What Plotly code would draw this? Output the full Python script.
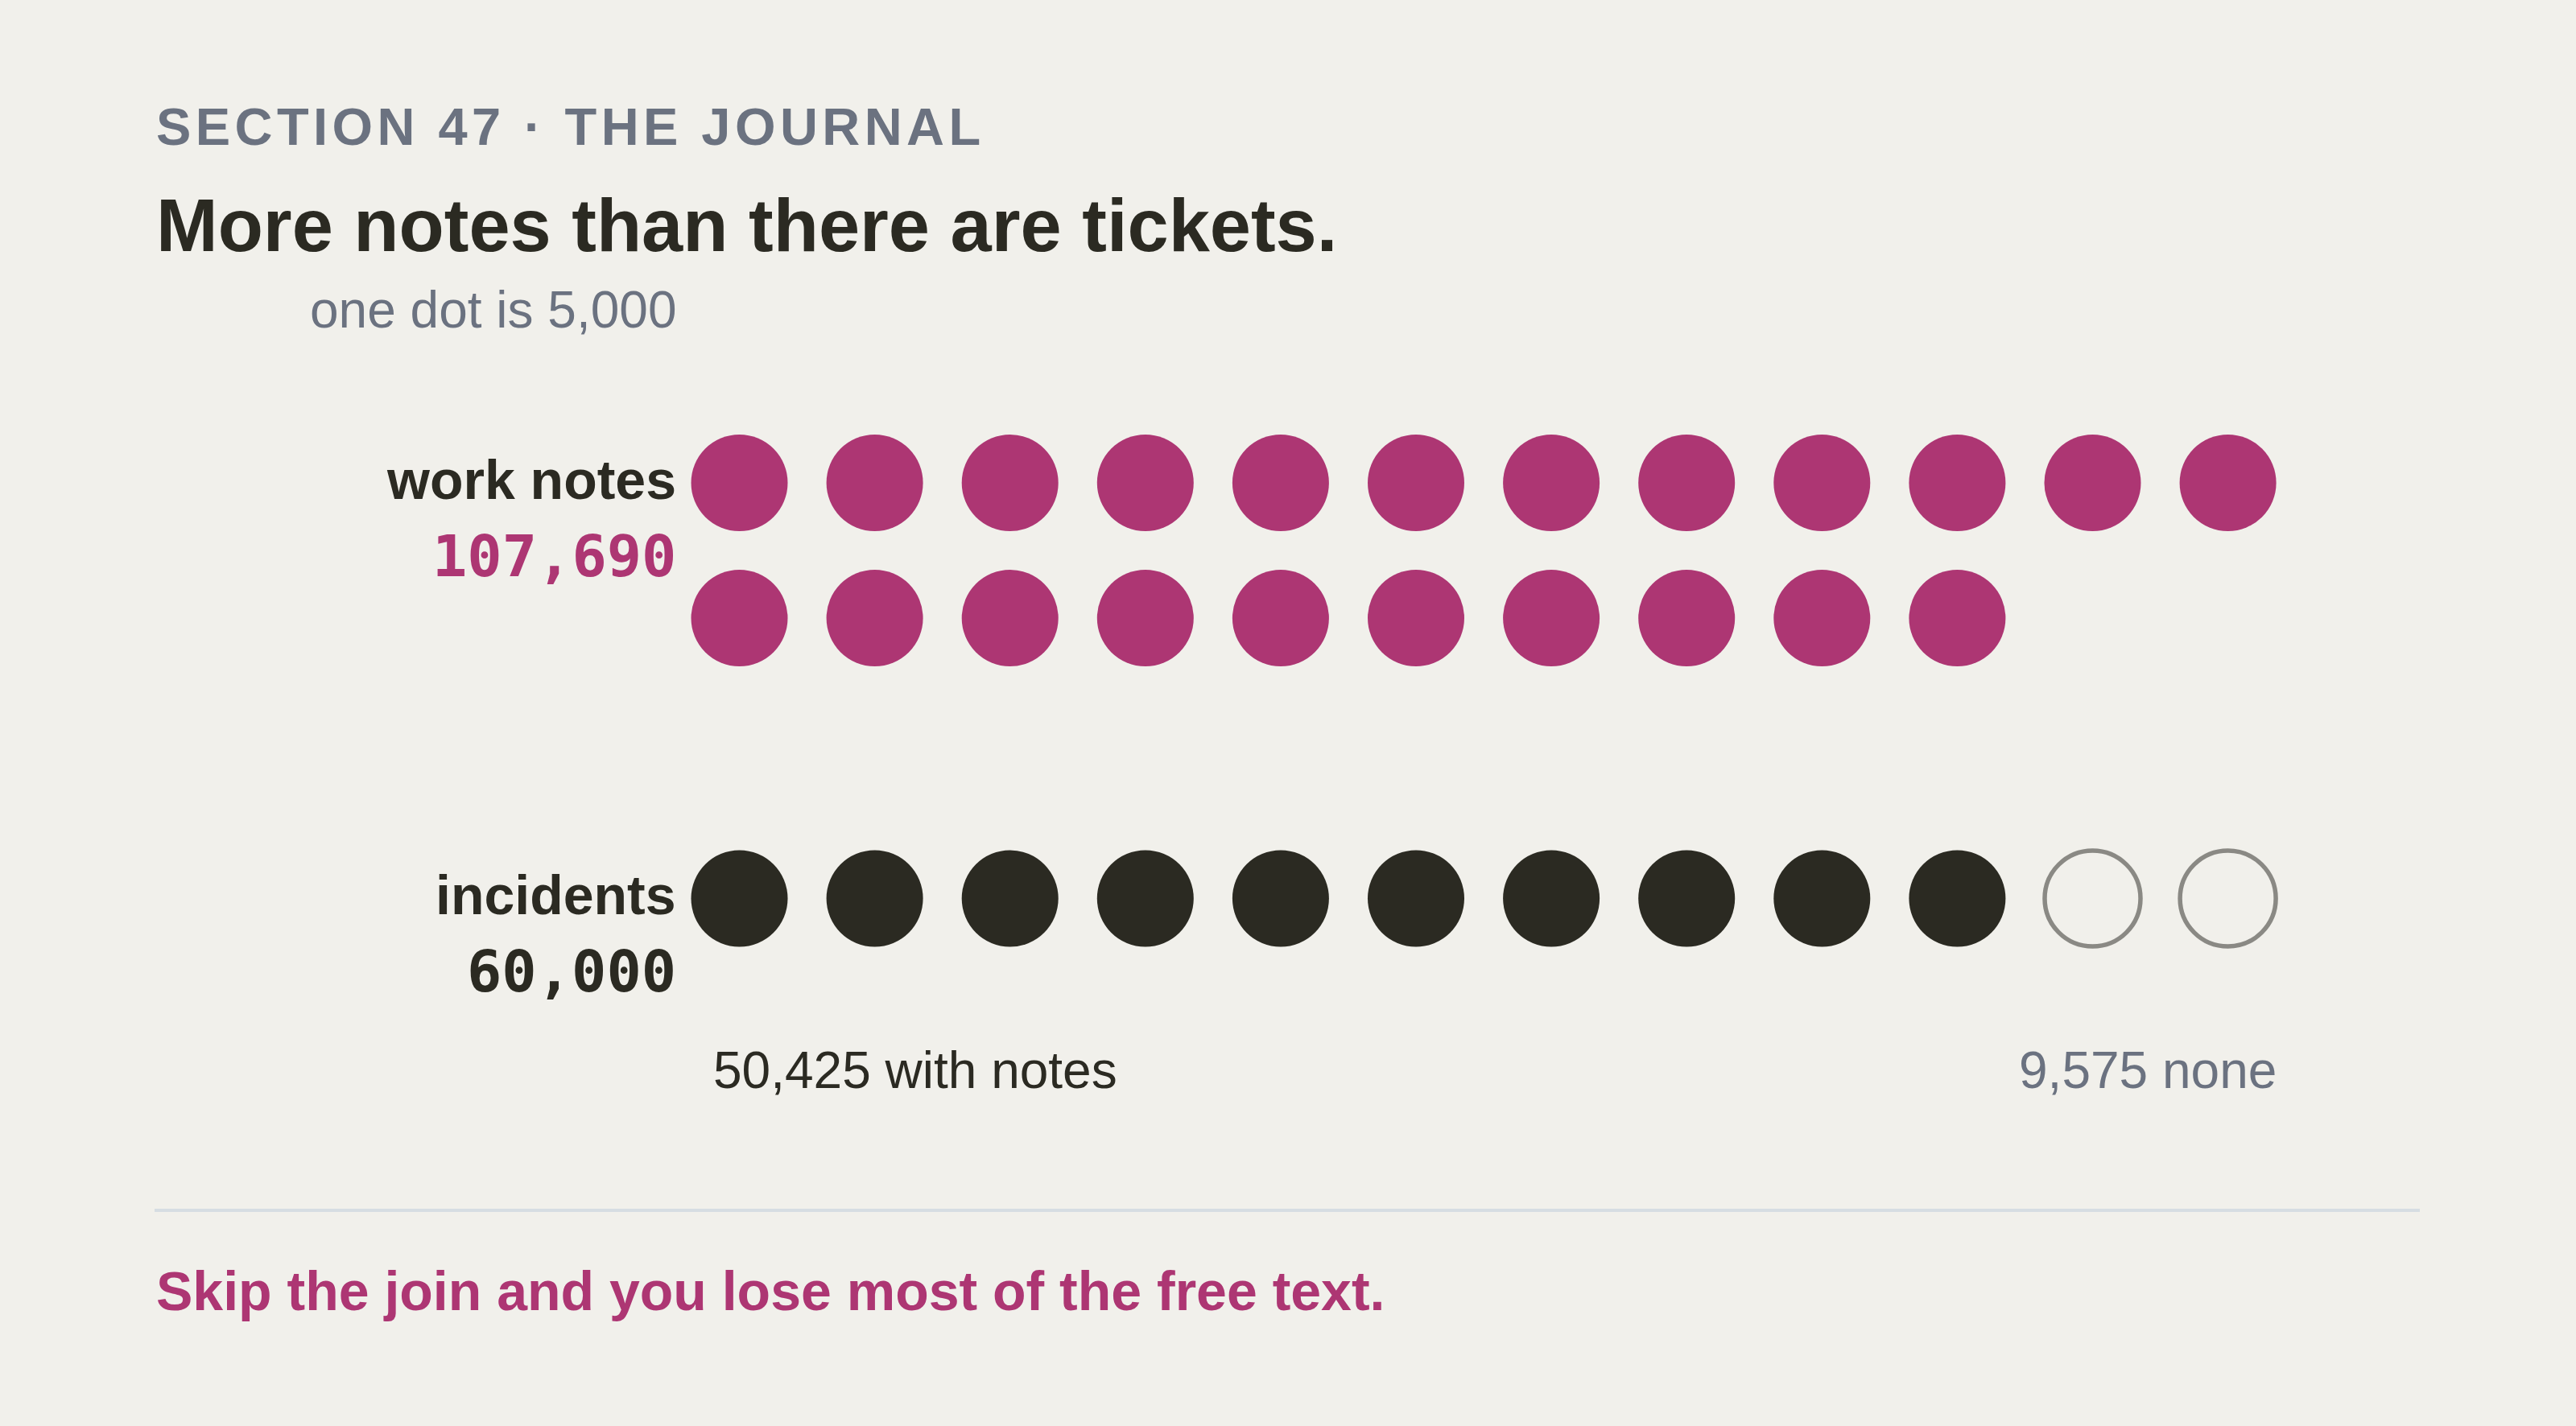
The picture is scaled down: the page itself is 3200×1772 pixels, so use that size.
import plotly.graph_objects as go

# data
rows = ["work notes", "incidents"]
totals = [107690, 60000]
with_notes = [107690, 50425]
no_notes = [0, 9575]
dot_unit = 5000

# canvas and layout constants (pixels)
W, H = 3200, 1772
BG = "#f1f0eb"
MAGENTA = "#ad3673"
DARK = "#2b2a22"
GRAY = "#6b7280"
RING = "#8a8984"
SANS = "Liberation Sans, Arial, sans-serif"
MONO = "DejaVu Sans Mono, monospace"

X0, STEP, PER_ROW = 918.5, 168.1, 12
ROW_TOP = [600, 1116.5]
ROW_GAP = 168
LABEL_RIGHT = 842
LEFT = 192


def mid(baseline, size):
    # plotly centres the text box; shift from baseline to box centre
    return baseline - 0.3465 * size


fig = go.Figure()

colors = [MAGENTA, DARK]
for r, name in enumerate(rows):
    n_total = round(totals[r] / dot_unit)
    n_fill = round(with_notes[r] / dot_unit)
    xs, ys, xe, ye = [], [], [], []
    for i in range(n_total):
        x = X0 + (i % PER_ROW) * STEP
        y = ROW_TOP[r] + (i // PER_ROW) * ROW_GAP
        if i < n_fill:
            xs.append(x)
            ys.append(y)
        else:
            xe.append(x)
            ye.append(y)
    fig.add_trace(go.Scatter(
        x=xs, y=ys, mode="markers", hoverinfo="skip",
        marker=dict(size=120, color=colors[r], line=dict(width=0)),
    ))
    if xe:
        fig.add_trace(go.Scatter(
            x=xe, y=ye, mode="markers", hoverinfo="skip",
            marker=dict(size=119, color=BG, line=dict(width=5.5, color=RING)),
        ))

notes = []


def note(text, x, baseline, size, color, anchor="left", family=SANS):
    notes.append(dict(
        text=text, x=x, y=mid(baseline, size), xref="x", yref="y",
        xanchor=anchor, yanchor="middle", showarrow=False,
        font=dict(size=size, color=color, family=family),
    ))


hair = "\u200a"
kicker = hair.join("SECTION 47 · THE JOURNAL")
note("<b>" + kicker + "</b>", LEFT, 180, 65, GRAY)
note("<b>More notes than there are tickets.</b>", LEFT, 312, 92, DARK)
note("one dot is " + f"{dot_unit:,}", LABEL_RIGHT, 407, 64, GRAY, "right")

note("<b>" + rows[0] + "</b>", LABEL_RIGHT, 620, 68, DARK, "right")
note("<b>" + f"{totals[0]:,}" + "</b>", LABEL_RIGHT, 716, 72, MAGENTA, "right", MONO)
note("<b>" + rows[1] + "</b>", LABEL_RIGHT, 1136, 68, DARK, "right")
note("<b>" + f"{totals[1]:,}" + "</b>", LABEL_RIGHT, 1232, 72, DARK, "right", MONO)

note(f"{with_notes[1]:,} with notes", 884, 1352, 64, DARK)
note(f"{no_notes[1]:,} none", X0 + (PER_ROW - 1) * STEP + 62, 1352, 64, GRAY, "right")

note("<b>Skip the join and you lose most of the free text.</b>", LEFT, 1628, 68, MAGENTA)

fig.update_layout(
    width=W, height=H,
    margin=dict(l=0, r=0, t=0, b=0),
    paper_bgcolor=BG, plot_bgcolor=BG,
    showlegend=False,
    xaxis=dict(range=[0, W], visible=False, fixedrange=True),
    yaxis=dict(range=[H, 0], visible=False, fixedrange=True),
    annotations=notes,
    shapes=[dict(type="line", xref="x", yref="y", x0=LEFT, x1=3006, y0=1504, y1=1504,
                 line=dict(color="#d6dde2", width=4))],
)

fig.write_html("out.html", config={"displayModeBar": False},
               post_script="document.body.style.margin='0';")
